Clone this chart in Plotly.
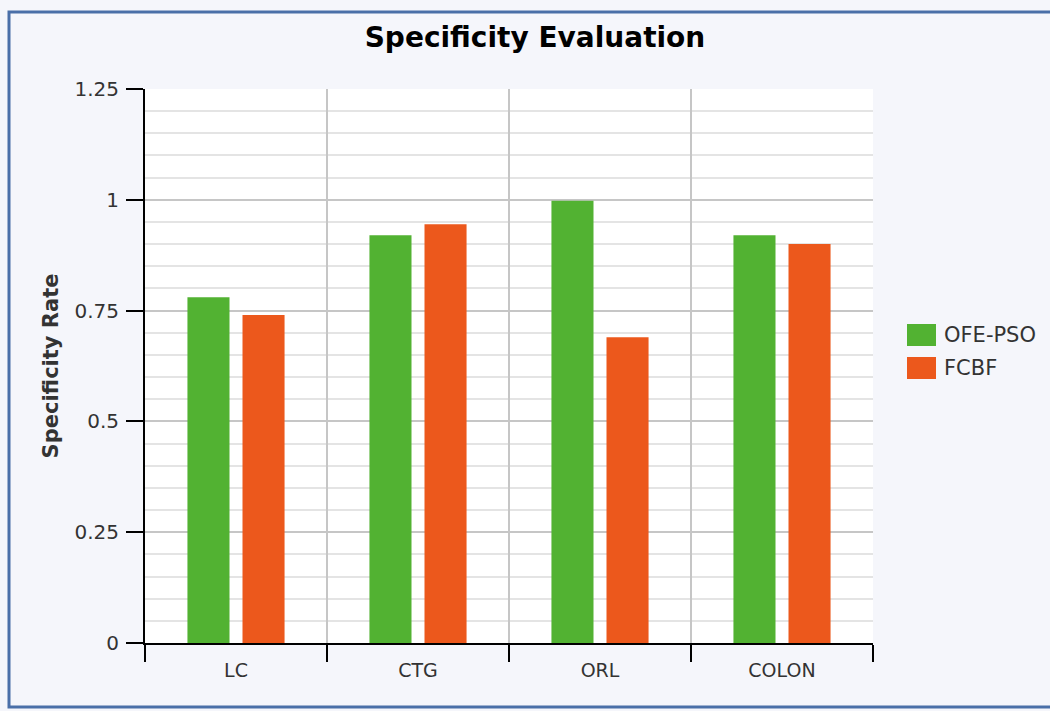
import plotly.graph_objects as go

categories = ["LC", "CTG", "ORL", "COLON"]
series_names = ["OFE-PSO", "FCBF"]
ofe_pso = [0.78, 0.92, 0.998, 0.92]
fcbf = [0.74, 0.945, 0.69, 0.90]
colors = ["#52b232", "#ec581c"]
y_ticks = [0, 0.25, 0.5, 0.75, 1, 1.25]

FONT = "Verdana, DejaVu Sans, sans-serif"

fig = go.Figure()
for name, vals, col in zip(series_names, [ofe_pso, fcbf], colors):
    fig.add_trace(go.Bar(x=categories, y=vals, name=name, marker=dict(color=col, line=dict(width=0)),
                         showlegend=False))

# manual legend (large swatches as in the reference)
shapes = []
annotations = []
for i, (name, col) in enumerate(zip(series_names, colors)):
    y0 = 324 + i * 33
    shapes.append(dict(type="rect", xref="paper", yref="paper",
                       x0=(907 - 145) / 728, x1=(936 - 145) / 728,
                       y0=(643 - (y0 + 22)) / 554, y1=(643 - y0) / 554,
                       fillcolor=col, line=dict(width=0)))
    annotations.append(dict(xref="paper", yref="paper", x=(942 - 145) / 728, y=(643 - (y0 + 11)) / 554,
                            text=name, showarrow=False, xanchor="left", yanchor="middle",
                            font=dict(family=FONT, size=21, color="#333333")))

# outer frame
shapes.append(dict(type="rect", xref="paper", yref="paper",
                   x0=(9 - 145) / 728, x1=(1060 - 145) / 728,
                   y0=(643 - 707) / 554, y1=(643 - 12) / 554,
                   line=dict(color="#4a6fa8", width=3), layer="below"))

fig.update_layout(
    width=1050, height=711,
    margin=dict(l=145, r=177, t=89, b=68),
    paper_bgcolor="#f5f6fb",
    plot_bgcolor="#ffffff",
    barmode="group",
    bargap=0.395,
    bargroupgap=0.236,
    title=dict(text="Specificity Evaluation", x=535 / 1050, xanchor="center", y=1 - 37 / 711, yanchor="middle",
               font=dict(family=FONT, size=28, color="#000000", weight="bold")),
    shapes=shapes,
    annotations=annotations,
    showlegend=False,
    xaxis=dict(
        type="category", range=[-0.5, 3.5], tickson="boundaries",
        ticks="outside", ticklen=17, tickwidth=2, tickcolor="#000000",
        showline=True, linecolor="#000000", linewidth=2,
        showgrid=True, gridcolor="#c6c6c6", gridwidth=1.5,
        tickfont=dict(family=FONT, size=19, color="#333333"),
        ticklabelstandoff=9,
    ),
    yaxis=dict(
        range=[0, 1.25], tickvals=y_ticks,
        ticks="outside", ticklen=17, tickwidth=2, tickcolor="#000000",
        showline=True, linecolor="#000000", linewidth=2,
        showgrid=True, gridcolor="#c6c6c6", gridwidth=1.5, zeroline=False,
        minor=dict(dtick=0.05, showgrid=True, gridcolor="#e4e4e4", gridwidth=1.5, ticks=""),
        tickfont=dict(family=FONT, size=20, color="#333333"),
        ticklabelstandoff=3,
        title=dict(text="Specificity Rate", standoff=10,
                   font=dict(family=FONT, size=21, color="#333333", weight="bold")),
    ),
)

fig.write_html("out.html", config={"displayModeBar": False},
               post_script="document.body.style.margin='0';document.body.style.overflow='hidden';")
